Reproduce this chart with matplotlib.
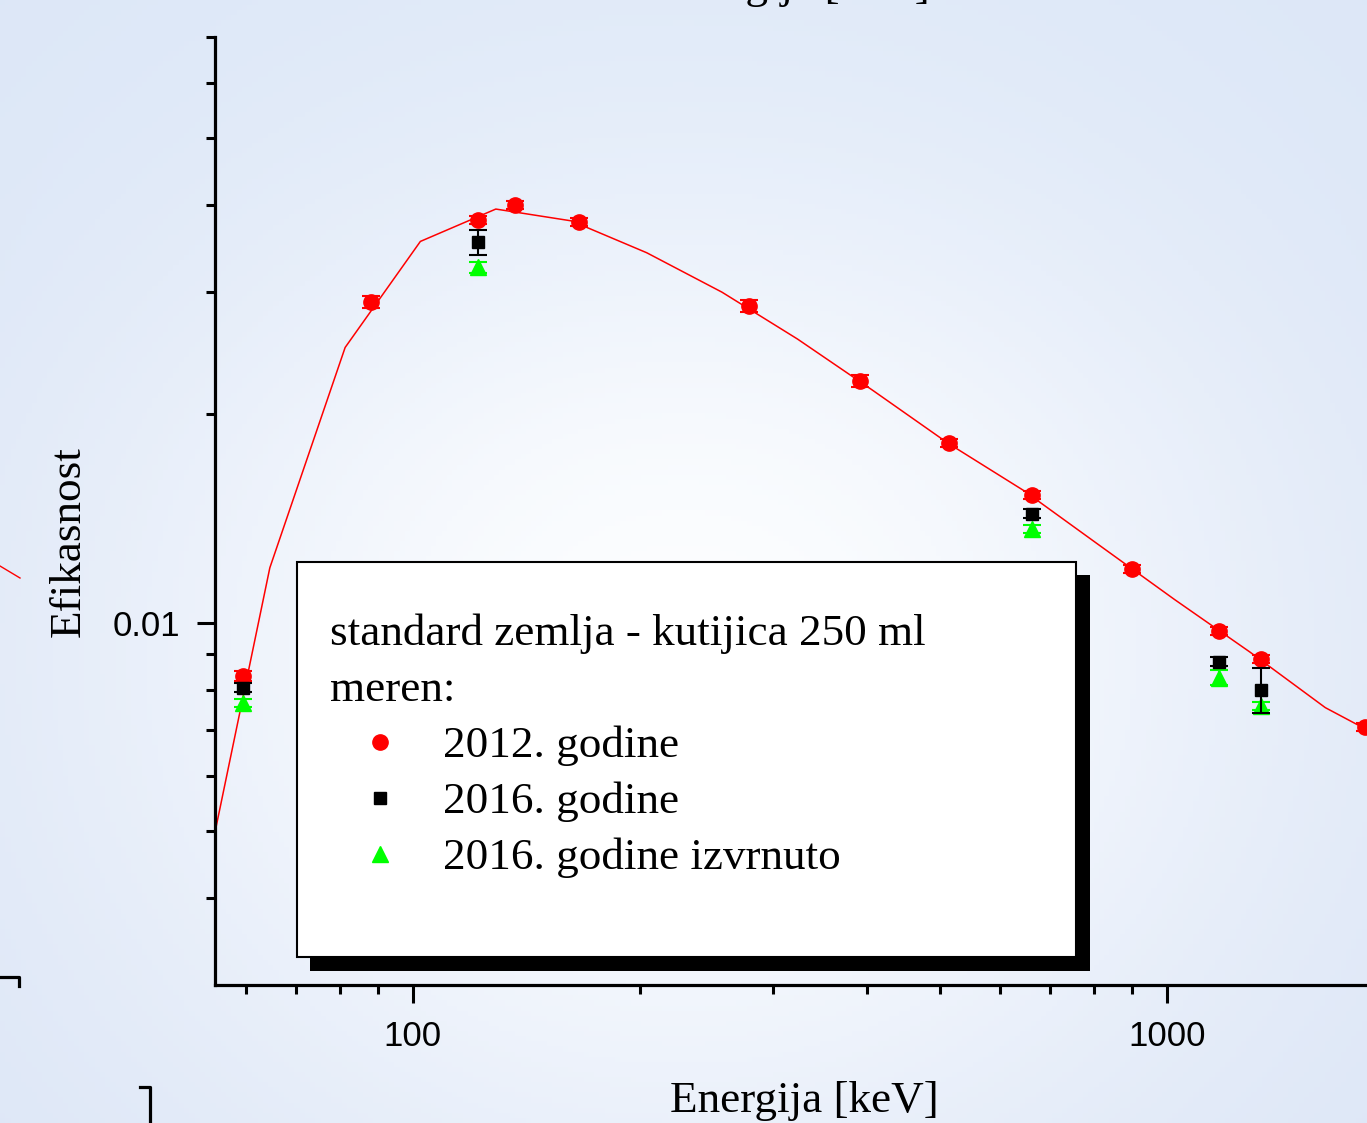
import numpy as np
import matplotlib
matplotlib.use("Agg")
import matplotlib.pyplot as plt
from matplotlib.lines import Line2D
from matplotlib.patches import Rectangle
from matplotlib.ticker import NullFormatter

# ---------------- data ----------------
energy_2012 = [59.5, 88.0, 122.1, 136.5, 165.9, 279.2, 391.7, 514.0, 661.7, 898.0, 1173.2, 1332.5, 1830.0]
eff_2012 = [0.00838, 0.0290, 0.0381, 0.0400, 0.0378, 0.0286, 0.0223, 0.01814, 0.0153, 0.01197, 0.00974, 0.00887, 0.00707]
err_2012 = [0.00013, 0.00058, 0.0005, 0.00053, 0.0005, 0.00057, 0.00045, 0.00024, 0.0002, 0.00016, 0.00013, 0.00012, 0.0001]

energy_2016 = [59.5, 122.1, 661.7, 1173.2, 1332.5]
eff_2016 = [0.00806, 0.0354, 0.01437, 0.00878, 0.0080]
err_2016 = [0.00012, 0.0015, 0.0002, 0.00013, 0.0006]

eff_2016_inv = [0.00766, 0.0326, 0.01367, 0.00833, 0.00759]
err_2016_inv = [0.0001, 0.0006, 0.00018, 0.0002, 0.0001]

fit_energy = [51.3, 64.6, 81.3, 102.3, 128.8, 162.2, 204.2, 257.0, 323.6, 407.4,
              512.9, 645.7, 812.8, 1023.3, 1288.2, 1621.8, 2041.7]
fit_eff = [0.00358, 0.0120, 0.02495, 0.03549, 0.03952, 0.0380, 0.03418, 0.02998, 0.02566,
           0.02163, 0.01814, 0.01551, 0.01294, 0.01080, 0.00907, 0.00754, 0.0066]

x_major = [100, 1000]
x_major_labels = ["100", "1000"]
x_minor = [60, 70, 80, 90, 200, 300, 400, 500, 600, 700, 800, 900]
y_major = [0.01]
y_major_labels = ["0.01"]
y_minor = [0.004, 0.005, 0.006, 0.007, 0.008, 0.009, 0.02, 0.03, 0.04, 0.05, 0.06, 0.07]

legend_title = ["standard zemlja - kutijica 250 ml", "meren:"]
legend_labels = ["2012. godine", "2016. godine", "2016. godine izvrnuto"]

# ---------------- figure ----------------
W, H = 1367, 1123
fig = plt.figure(figsize=(W / 100, H / 100), dpi=100)

SERIF = ["Liberation Serif", "DejaVu Serif"]
SANS = ["Liberation Sans", "DejaVu Sans"]

# background (slide backdrop)
bg = fig.add_axes([0, 0, 1, 1], zorder=-5)
ny, nx = 220, 260
yy, xx = np.mgrid[0:1:ny * 1j, 0:1:nx * 1j]
base = np.array([0.855, 0.895, 0.965])
white = np.array([0.99, 0.995, 1.0])
d2 = ((xx - 0.5) / 0.45) ** 2 + ((yy - 0.58) / 0.5) ** 2
w = np.exp(-d2 * 1.0)
img = base + (white - base) * w[..., None]
top = np.exp(-((yy - 0.0) / 0.25) ** 2)[..., None]
img = img * (1 - 0.3 * top) + np.array([0.87, 0.92, 0.98]) * 0.3 * top
bg.imshow(np.clip(img, 0, 1), extent=[0, 1, 0, 1], aspect="auto", origin="upper")
bg.set_axis_off()

# main axes
L, R, T, B = 215, W, 37, 985
ax = fig.add_axes([L / W, (H - B) / H, (R - L) / W, (B - T) / H])
ax.patch.set_alpha(0)
ax.set_xscale("log")
ax.set_yscale("log")
ax.set_xlim(54.64, 1842)
ax.set_ylim(0.003, 0.07)

ax.plot(fit_energy, fit_eff, color="red", lw=1.1, zorder=2)
ax.errorbar(energy_2012, eff_2012, yerr=err_2012, fmt="o", color="red", ms=11,
            capsize=6.5, capthick=1.5, elinewidth=1.5, zorder=3)
ax.errorbar(energy_2016, eff_2016, yerr=err_2016, fmt="s", color="black", ms=8,
            capsize=6.5, capthick=1.5, elinewidth=1.5, zorder=4)
ax.errorbar(energy_2016, eff_2016_inv, yerr=err_2016_inv, fmt="^", color="#00ff00", ms=11,
            capsize=6.5, capthick=1.5, elinewidth=1.5, zorder=3)

for s in ("top", "right"):
    ax.spines[s].set_visible(False)
for s in ("left", "bottom"):
    ax.spines[s].set_linewidth(2.3)

ax.set_xticks(x_major, labels=x_major_labels)
ax.set_xticks(x_minor, minor=True)
ax.set_yticks(y_major, labels=y_major_labels)
ax.set_yticks(y_minor, minor=True)
ax.xaxis.set_minor_formatter(NullFormatter())
ax.yaxis.set_minor_formatter(NullFormatter())
ax.tick_params(which="major", direction="out", length=13, width=2.2, pad=12,
               labelsize=25)
ax.tick_params(which="minor", direction="out", length=6.5, width=2.2)
for lab in ax.get_xticklabels() + ax.get_yticklabels():
    lab.set_family(SANS)

# axis labels
fig.text(69 / W, 1 - 542 / H, "Efikasnost", rotation=90, ha="center", va="center",
         fontsize=32.5, family=SERIF)
fig.text(804 / W, 1 - 1112 / H, "Energija [keV]", ha="center", va="baseline",
         fontsize=32.5, family=SERIF)

# remnants of neighbouring slide elements
fig.text(795 / W, 1 + 2 / H, "Energija [keV]", ha="center", va="baseline",
         fontsize=32.5, family=SERIF)
fig.add_artist(Line2D([0, 20 / W], [1 - 566 / H, 1 - 578 / H], color="red", lw=1.0,
                      transform=fig.transFigure))
fig.add_artist(Line2D([0, 19 / W, 19 / W], [1 - 977 / H, 1 - 977 / H, 1 - 986 / H],
                      color="black", lw=2.3, transform=fig.transFigure))
fig.add_artist(Line2D([140 / W, 150 / W, 150 / W], [1 - 1087 / H, 1 - 1087 / H, 0],
                      color="black", lw=2.3, transform=fig.transFigure))

# legend box with solid shadow
fig.add_artist(Rectangle((310 / W, (H - 971) / H), 780 / W, 396 / H, facecolor="black",
                         edgecolor="none", transform=fig.transFigure, zorder=1))
fig.add_artist(Rectangle((297 / W, (H - 957) / H), 779 / W, 395 / H, facecolor="white",
                         edgecolor="black", lw=1.5, transform=fig.transFigure, zorder=1.1))
base_y = 645
for i, t in enumerate(legend_title):
    fig.text(330 / W, 1 - (base_y + 56 * i) / H, t, ha="left", va="baseline",
             fontsize=32.5, family=SERIF, zorder=3)
styles = [dict(marker="o", color="red", ms=11),
          dict(marker="s", color="black", ms=8),
          dict(marker="^", color="#00ff00", ms=12)]
for i, (lab, st) in enumerate(zip(legend_labels, styles)):
    yb = base_y + 56 * (i + 2)
    fig.add_artist(Line2D([380 / W], [1 - (yb - 15) / H], linestyle="none",
                          transform=fig.transFigure, zorder=2, **st))
    fig.text(443 / W, 1 - yb / H, lab, ha="left", va="baseline",
             fontsize=32.5, family=SERIF, zorder=3)

fig.savefig("out.png", dpi=100)
